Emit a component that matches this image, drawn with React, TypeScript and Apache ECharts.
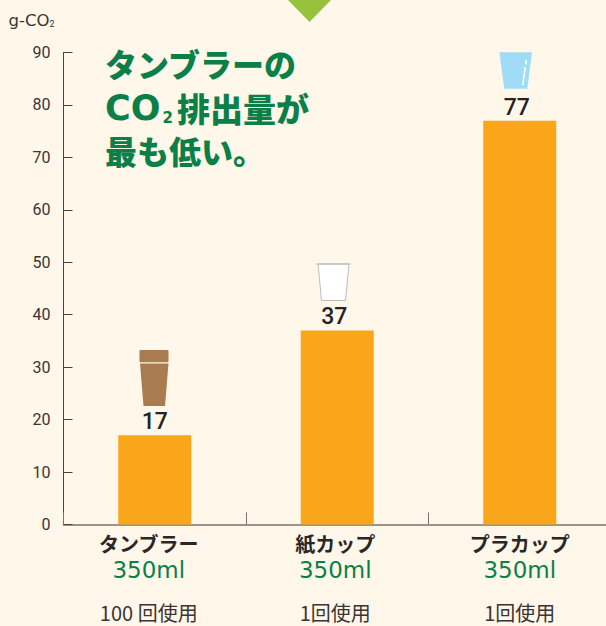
import React, { useEffect, useRef } from "react";
import * as echarts from "echarts";

const categories = ["タンブラー", "紙カップ", "プラカップ"];
const sizes = ["350ml", "350ml", "350ml"];
const uses = ["100 回使用", "1回使用", "1回使用"];
const values = [17, 37, 77];
const yTicks = { min: 0, max: 90, interval: 10 };

const INK = "#3a3534";
const GREEN = "#0a8048";
const JP = '"Noto Sans CJK JP", sans-serif';
const NUM = 'Roboto, "Noto Sans", sans-serif';
const WIDE = '"DejaVu Sans", sans-serif';

const labelNudge = [0, -3, -3];

function lineStyles(suffix: string, padRight: number) {
  return {
    ["n" + suffix]: { fontFamily: JP, fontWeight: 700, fontSize: 20, color: "#2b2727", lineHeight: 27, padding: [0, padRight, 0, 0] },
    ["s" + suffix]: { fontFamily: WIDE, fontSize: 23, color: GREEN, lineHeight: 27, padding: [0, padRight, 0, 0] },
    ["u" + suffix]: { fontFamily: JP, fontSize: 20, color: INK, lineHeight: 20, padding: [37, padRight, 0, 0] },
  };
}

export default function App() {
  const ref = useRef<HTMLDivElement>(null);
  useEffect(() => {
    document.body.style.margin = "0";
    document.body.style.overflow = "hidden";
    const chart = echarts.init(ref.current!, null, { renderer: "svg" });
    chart.setOption({
      animation: false,
      backgroundColor: "#fff7e9",
      grid: { left: 63.5, top: 52.5, width: 547.5, height: 472, containLabel: false },
      xAxis: {
        type: "category",
        data: categories,
        axisLine: { lineStyle: { color: "#7d7269", width: 1.5 } },
        axisTick: { show: true, inside: true, length: 12, lineStyle: { color: "#7d7269", width: 1 } },
        axisLabel: {
          margin: 5,
          interval: 0,
          formatter: (v: string, i: number) =>
            `{n${i}|${v}}\n{s${i}|${sizes[i]}}\n{u${i}|${uses[i]}}`,
          rich: { ...lineStyles("0", 12), ...lineStyles("1", 4), ...lineStyles("2", 0) },
        },
      },
      yAxis: {
        type: "value",
        min: yTicks.min,
        max: yTicks.max,
        interval: yTicks.interval,
        splitLine: { show: false },
        axisLine: { show: true, lineStyle: { color: "#4a4240", width: 1 } },
        axisTick: { show: true, inside: true, length: 9, lineStyle: { color: "#4a4240", width: 1 } },
        axisLabel: { margin: 13, fontFamily: NUM, fontSize: 16, color: INK },
        name: "{a|g-CO}{b|2}",
        nameLocation: "end",
        nameGap: 24,
        nameTextStyle: {
          align: "right",
          padding: [0, 9, 0, 0],
          rich: {
            a: { fontFamily: WIDE, fontSize: 16.5, color: INK },
            b: { fontFamily: NUM, fontSize: 9, color: INK, verticalAlign: "bottom", padding: [6, 0, 0, 0] },
          },
        },
      },
      series: [
        {
          type: "bar",
          data: values.map((value, i) => ({ value, label: { offset: [labelNudge[i], 0] } })),
          barWidth: 73,
          itemStyle: { color: "#faa61a" },
          label: {
            show: true,
            position: "top",
            distance: 2,
            fontFamily: NUM,
            fontWeight: 500,
            fontSize: 23,
            color: "#262223",
          },
        },
      ],
      graphic: [
        { type: "polygon", shape: { points: [[288, 0], [331, 0], [309.5, 22]] }, style: { fill: "#97c23d" } },
        {
          type: "text", x: 105, y: 47,
          style: { text: "タンブラーの", font: `900 32px ${JP}`, fill: GREEN },
        },
        {
          type: "text", x: 105, y: 90,
          style: {
            text: "{c|CO}{s|2}{b|排出量が}",
            rich: {
              c: { fontFamily: WIDE, fontWeight: 700, fontSize: 35, fill: GREEN },
              b: { fontFamily: JP, fontWeight: 900, fontSize: 33, fill: GREEN },
              s: { fontFamily: WIDE, fontWeight: 700, fontSize: 15, fill: GREEN, verticalAlign: "bottom", padding: [10, 4, 0, 2] },
            },
          },
        },
        {
          type: "text", x: 105, y: 134,
          style: { text: "最も低い。", font: `900 32px ${JP}`, fill: GREEN },
        },
        // tumbler
        { type: "rect", shape: { x: 139.5, y: 350, width: 29, height: 12.3, r: 1 }, style: { fill: "#a87c50" } },
        { type: "polygon", shape: { points: [[140, 363.5], [168.5, 363.5], [165, 406], [143.5, 406]] }, style: { fill: "#a87c50" } },
        // paper cup
        { type: "polygon", shape: { points: [[318, 264], [349, 264], [345.5, 300.5], [321.5, 300.5]] }, style: { fill: "#ffffff", stroke: "#bdbdbd", lineWidth: 1, lineJoin: "round" } },
        { type: "line", shape: { x1: 316.5, y1: 264, x2: 350.5, y2: 264 }, style: { stroke: "#c4c4c4", lineWidth: 1.5 } },
        // plastic cup
        { type: "polygon", shape: { points: [[499.3, 52.3], [532, 52.3], [527.3, 88.7], [504.3, 88.7]] }, style: { fill: "#a0dcf8" } },
        { type: "line", shape: { x1: 525.2, y1: 67, x2: 522.8, y2: 85 }, style: { stroke: "#ffffff", lineWidth: 1.6 } },
        { type: "line", shape: { x1: 526.2, y1: 60, x2: 525.7, y2: 64.5 }, style: { stroke: "#ffffff", lineWidth: 1.6 } },
      ],
    });
    return () => chart.dispose();
  }, []);
  return (
    <div style={{ width: 606, height: 626, overflow: "hidden" }}>
      <div ref={ref} style={{ width: 612, height: 626 }} />
    </div>
  );
}
